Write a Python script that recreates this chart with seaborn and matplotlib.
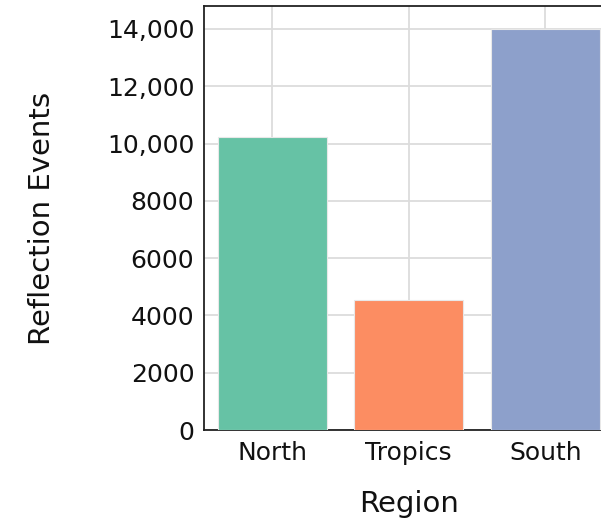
import matplotlib
matplotlib.use('Agg')
import matplotlib.pyplot as plt
import matplotlib.ticker as mticker
import pandas as pd
import seaborn as sns

# Data
regions = ['North', 'Tropics', 'South']
events = [10220, 4550, 14000]
colors = ['#66c2a5', '#fc8d62', '#8da0cb']
y_ticks = [0, 2000, 4000, 6000, 8000, 10000, 12000, 14000]

df = pd.DataFrame({'Region': regions, 'Reflection Events': events})

sns.set_style('white')
plt.rcParams['font.family'] = 'sans-serif'
plt.rcParams['font.sans-serif'] = ['DejaVu Sans']

fig = plt.figure(figsize=(6.01, 5.22), dpi=100)
ax = fig.add_axes([0.3394, 0.1762, 0.6814, 0.8123])

sns.barplot(data=df, x='Region', y='Reflection Events', hue='Region',
            palette=colors, order=regions, hue_order=regions, width=0.8,
            saturation=1, edgecolor='#e8e8e8', linewidth=0.8, legend=False,
            ax=ax, zorder=3)

ax.set_xlim(-0.5, 2.5)
ax.set_ylim(0, 14800)
ax.set_yticks(y_ticks)
ax.yaxis.set_major_formatter(mticker.FuncFormatter(
    lambda v, p: f'{v:,.0f}' if v >= 10000 else f'{v:.0f}'))

ax.grid(True, color='#dcdcdc', linewidth=1.3, zorder=0)
ax.set_axisbelow(True)

for side in ['left', 'bottom', 'top', 'right']:
    ax.spines[side].set_color('#222222')
    ax.spines[side].set_linewidth(1.3)

ax.tick_params(axis='both', direction='in', length=6, width=1.2,
               color='#444444', labelsize=18, labelcolor='#111111')
ax.tick_params(axis='y', pad=7)
ax.tick_params(axis='x', pad=8)

ax.set_xlabel('Region', fontsize=21, color='#111111')
ax.set_ylabel('Reflection Events', fontsize=21, color='#111111')
ax.xaxis.set_label_coords(0.5, -0.141)
ax.yaxis.set_label_coords(-0.362, 0.5)

fig.savefig('out.png', dpi=100)
